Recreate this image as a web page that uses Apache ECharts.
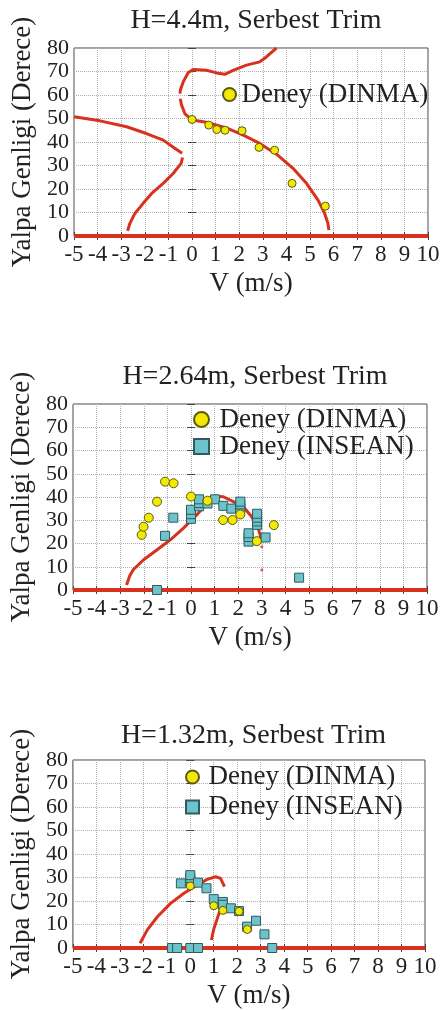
<!DOCTYPE html>
<html><head><meta charset="utf-8">
<script src="https://cdn.jsdelivr.net/npm/echarts@6.0.0/dist/echarts.min.js"></script>
<style>html,body{margin:0;padding:0;background:#fff}#c{width:443px;height:1010px}</style>
</head><body><div id="c"></div>
<script>
// ---------- data ----------
const panelTitles = ['H=4.4m, Serbest Trim', 'H=2.64m, Serbest Trim', 'H=1.32m, Serbest Trim'];
const xName = 'V (m/s)';
const yName = 'Yalpa Genligi (Derece)';
const nameDINMA = 'Deney (DINMA)';
const nameINSEAN = 'Deney (INSEAN)';
const xMin = -5, xMax = 10, xStep = 1;
const yMin = 0, yMax = 80, yStep = 10;

const zeroLine = [[-5, 0], [10, 0]];

// Panel 1 (H=4.4m)
const p1CurveLeft = [[-5,50.7],[-3.9,49],[-2.77,46.5],[-1.93,43.6],[-1.22,40.8],[-0.73,37.3],[-0.42,35.2],null,
  [-0.4,33.4],[-0.46,30.9],[-0.8,26.6],[-1.22,22.4],[-1.71,18.1],[-2.07,13.9],[-2.42,9.6],[-2.63,5.4],[-2.73,2.2]];
const p1CurveTop = [[0,49.4],[-0.3,52],[-0.44,55.7],[-0.5,58.4],null,
  [-0.51,60.6],[-0.49,62.2],[-0.37,65.6],[-0.16,69.6],[0.05,70.8],[0.61,70.5],[1.04,69.4],[1.39,68.8],[1.74,70.5],[2.31,72.7],[2.87,74.1],[3.15,76.2],[3.58,80]];
const p1CurveMain = [[0,49.4],[0.61,48.4],[1.46,46.0],[2.17,42.9],[2.87,39.4],[3.58,34.8],[4.28,28.8],[4.85,22.4],[5.34,15.3],[5.62,9.6],[5.76,5.4],[5.8,2.5]];
const p1DINMA = [[0,49.6],[0.71,47.2],[1.05,45.3],[1.4,45.0],[2.12,44.8],[2.84,37.7],[3.5,36.5],[4.24,22.4],[5.65,12.7]];

// Panel 2 (H=2.64m)
const p2Curve = [[-2.73,2.2],[-2.6,6],[-2.44,8.8],[-2.02,12.9],[-1.45,17.2],[-0.89,21.5],[-0.33,26.5],[0.24,32.3],[0.67,37.3],[1.02,40.3],[1.37,40.1],[1.79,38],[2.22,35.8],[2.57,31.5],[2.85,26.5],[2.99,21.5]];
const p2CurveDots = [[3.0,18.6],[3.0,8.6]];
const p2DINMA = [[-2.09,23.7],[-2.01,27.2],[-1.79,31.1],[-1.44,38],[-1.1,46.6],[-0.74,45.9],[0,40.2],[0.7,38.4],[1.36,30.1],[1.76,30.1],[2.09,32.5],[2.79,21],[3.51,27.9]];
const p2INSEAN = [[-1.44,0],[-1.1,23.3],[-0.75,31.1],[0,30.6],[0,32.6],[0,34.5],[0.34,36],[0.34,37.4],[0.34,39],[0.7,37.2],[1.02,39],[1.37,36.2],[1.71,35],[2.09,35.1],[2.09,36.8],[2.09,38],[2.44,20.8],[2.44,22.8],[2.44,24.4],[2.8,28],[2.8,29.5],[2.8,31.1],[2.8,32.8],[3.16,22.6],[4.58,5.3]];

// Panel 3 (H=1.32m)
const p3Curve1 = [[-2.14,2],[-1.83,7.7],[-1.4,13.3],[-0.84,19],[-0.27,23.3],[0.3,26.8],[0.72,29.2],[1.08,30.3],[1.29,29.6],[1.46,26.1]];
const p3Curve2 = [[0.9,3.4],[1.0,8],[1.15,12.5],[1.3,17],[1.38,19.5]];
const p3DINMA = [[0,26.4],[1.0,18],[1.39,16],[2.08,15.6],[2.43,7.9]];
const p3INSEAN = [[-0.78,0],[-0.56,0],[0,0],[0.33,0],[3.49,0],[-0.4,27.5],[0,28.6],[0,29.8],[0,31],[0.33,27.8],[0.69,25.4],[1.0,20.8],[1.39,19.6],[1.39,18.4],[1.73,16.9],[2.08,15.7],[2.42,9.1],[2.8,11.6],[3.16,5.8]];

// ---------- styling / layout ----------
const FONT = '"Liberation Serif", "Times New Roman", serif';
const RED = '#d8321f';
const SQUARE = 'path://M0 0H10V10H0Z';
const grids = [
  {left: 74, top: 48, width: 354, height: 188},
  {left: 73, top: 404, width: 354, height: 186},
  {left: 72, top: 760, width: 353, height: 188}
];
const titleTops = [2, 358, 717];

const option = {
  animation: false,
  backgroundColor: '#fff',
  title: [], grid: [], xAxis: [], yAxis: [], series: [], legend: []
};

grids.forEach((g, i) => {
  option.grid.push(Object.assign({show: true, borderColor: '#444', borderWidth: 1, backgroundColor: 'transparent'}, g));
  option.title.push({text: panelTitles[i], left: g.left + g.width / 2, top: titleTops[i], textAlign: 'center',
    textStyle: {fontFamily: FONT, fontSize: 28, fontWeight: 'normal', color: '#222'}});
  option.xAxis.push({type: 'value', gridIndex: i, min: xMin, max: xMax, interval: xStep,
    name: xName, nameLocation: 'middle', nameGap: 34,
    nameTextStyle: {fontFamily: FONT, fontSize: 27, color: '#222'},
    axisLine: {show: false}, axisTick: {show: true, inside: true, length: 4, lineStyle: {color: '#444'}},
    axisLabel: {fontFamily: FONT, fontSize: 23, color: '#222', margin: 7},
    splitLine: {show: true, lineStyle: {color: '#b0b0b0', type: 'dotted', width: 1}}});
  option.xAxis.push({type: 'value', gridIndex: i, min: xMin, max: xMax, interval: xStep, position: 'top',
    axisLine: {show: false}, axisTick: {show: true, inside: true, length: 4, lineStyle: {color: '#444'}},
    axisLabel: {show: false}, splitLine: {show: false}});
  option.yAxis.push({type: 'value', gridIndex: i, min: yMin, max: yMax, interval: yStep,
    name: yName, nameLocation: 'middle', nameGap: 37,
    nameTextStyle: {fontFamily: FONT, fontSize: 27, color: '#222'},
    axisLine: {show: false}, axisTick: {show: true, inside: true, length: 4, lineStyle: {color: '#444'}},
    axisLabel: {fontFamily: FONT, fontSize: 22, color: '#222', margin: 5},
    splitLine: {show: true, lineStyle: {color: '#b0b0b0', type: 'dotted', width: 1}}});
  option.yAxis.push({type: 'value', gridIndex: i, min: yMin, max: yMax, interval: yStep, position: 'right',
    axisLine: {show: false}, axisTick: {show: true, inside: true, length: 4, lineStyle: {color: '#444'}},
    axisLabel: {show: false}, splitLine: {show: false}});
});

function lineS(i, data) {
  return {type: 'line', xAxisIndex: 2 * i, yAxisIndex: 2 * i, data: data, showSymbol: false, symbol: 'none',
    connectNulls: false, lineStyle: {color: RED, width: 3}, itemStyle: {color: RED}, z: 3, silent: true};
}
function zeroS(i) {
  return {type: 'line', xAxisIndex: 2 * i, yAxisIndex: 2 * i, data: zeroLine, symbol: 'none',
    lineStyle: {color: RED, width: 4}, z: 4, silent: true};
}
function dinmaS(i, data, size) {
  return {type: 'scatter', name: nameDINMA, xAxisIndex: 2 * i, yAxisIndex: 2 * i, data: data, symbol: 'circle', symbolSize: size,
    itemStyle: {color: '#f4ea00', borderColor: '#5b5a14', borderWidth: 1, opacity: 1}, z: 6};
}
function inseanS(i, data, size) {
  return {type: 'scatter', name: nameINSEAN, xAxisIndex: 2 * i, yAxisIndex: 2 * i, data: data, symbol: 'rect', symbolSize: size,
    itemStyle: {color: '#6cc3c9', borderColor: '#2f5a60', borderWidth: 1, opacity: 1}, z: 5};
}

// Panel 1
option.series.push(zeroS(0), lineS(0, p1CurveLeft), lineS(0, p1CurveTop), lineS(0, p1CurveMain), dinmaS(0, p1DINMA, 8));
// Panel 2
option.series.push(zeroS(1), lineS(1, p2Curve),
  {type: 'scatter', xAxisIndex: 2, yAxisIndex: 2, data: p2CurveDots, symbolSize: 3, itemStyle: {color: RED}, z: 3, silent: true},
  inseanS(1, p2INSEAN, 9), dinmaS(1, p2DINMA, 9));
// Panel 3
option.series.push(zeroS(2), lineS(2, p3Curve1), lineS(2, p3Curve2), inseanS(2, p3INSEAN, 9), dinmaS(2, p3DINMA, 8));

const legendText = {fontFamily: FONT, fontSize: 27, color: '#222'};
option.legend.push({data: [{name: nameDINMA, icon: 'circle'}], orient: 'vertical', left: 222, top: 81, padding: 0, itemGap: 0,
  itemWidth: 14, itemHeight: 13, selectedMode: false, textStyle: Object.assign({lineHeight: 26}, legendText)});
option.legend.push({data: [{name: nameDINMA, icon: 'circle'}, {name: nameINSEAN, icon: SQUARE}], orient: 'vertical', left: 193, top: 406, padding: 0, itemGap: 0,
  itemWidth: 26, itemHeight: 15, symbolKeepAspect: true, selectedMode: false, textStyle: Object.assign({lineHeight: 22}, legendText)});
option.legend.push({data: [{name: nameDINMA, icon: 'circle'}, {name: nameINSEAN, icon: SQUARE}], orient: 'vertical', left: 185, top: 762, padding: 0, itemGap: 0,
  itemWidth: 22, itemHeight: 13, symbolKeepAspect: true, selectedMode: false, textStyle: Object.assign({lineHeight: 30}, legendText)});

const chart = echarts.init(document.getElementById('c'), null, {renderer: 'canvas'});
chart.setOption(option);
</script>
</body></html>
